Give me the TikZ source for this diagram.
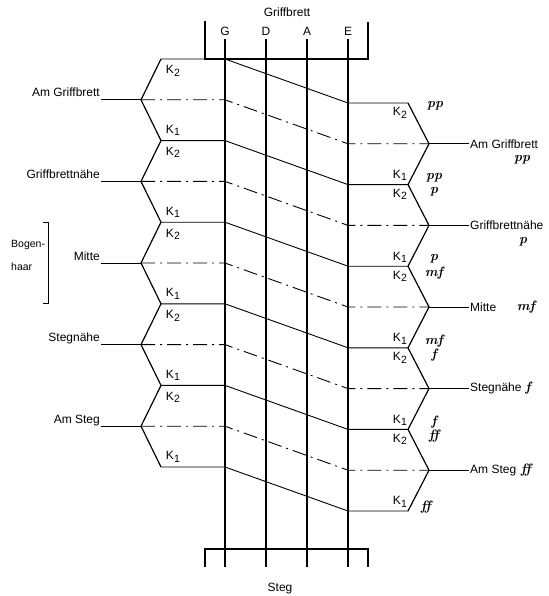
\documentclass[tikz,border=0pt]{standalone}
\usepackage{fontspec}
\setsansfont{Liberation Sans}
\usetikzlibrary{calc}
\newcommand{\Kn}[1]{K\kern0.2pt\raisebox{-2.5pt}{\fontsize{10.5}{11}\selectfont #1}}
\tikzset{
  lbl/.style={font=\sffamily\fontsize{12}{14}\selectfont, inner sep=1pt},
  klbl/.style={font=\sffamily\fontsize{12}{14}\selectfont, inner sep=0pt},
  dynlbl/.style={font=\rmfamily\bfseries\itshape\fontsize{13.5}{15}\selectfont, inner sep=0pt},
  strline/.style={line width=1.3pt},
  zigline/.style={line width=1.2pt, line join=miter},
  levline/.style={line width=0.9pt},
  dashline/.style={levline, dash pattern=on 14pt off 5pt on 2pt off 5pt},
}
\begin{document}
\begin{tikzpicture}[x=1pt, y=-1pt]
  \useasboundingbox[fill=white] (0,0) rectangle (548,596);
  % levels: left side, G string, E string, right side
  \foreach \i in {0,...,10}{
    \pgfmathsetmacro{\yl}{59+40.8*\i}
    \pgfmathsetmacro{\yr}{103+40.8*\i}
    \pgfmathsetmacro{\xl}{isodd(\i) ? 141 : 161}
    \pgfmathsetmacro{\xr}{isodd(\i) ? 429 : 408}
    \coordinate (zl\i) at (\xl,\yl);
    \coordinate (gl\i) at (225,\yl);
    \coordinate (er\i) at (348,\yr);
    \coordinate (zr\i) at (\xr,\yr);
  }
  % strings
  \foreach \s/\x in {G/225, D/266, A/307, E/348}{
    \node[lbl] (n\s) at (\x,31) {\s};
    \coordinate (top\s) at (\x,39);
    \coordinate (bot\s) at (\x,567);
    \draw[strline] (top\s) -- (bot\s);
  }
  \node[lbl] (griff) at (287,12) {Griffbrett};
  \node[lbl] (steg) at (280,589) {Steg};
  % brackets
  \coordinate (tbl) at (205,21);
  \coordinate (tbr) at (368,22);
  \draw[strline] (tbl) |- (gl0) -- (368,59) -- (tbr);
  \coordinate (bbl) at (205,567);
  \coordinate (bbr) at (368,567);
  \draw[strline] (bbl) |- (266,549) -| (bbr);
  % zigzags
  \draw[zigline] (zl0) \foreach \i in {1,...,10}{ -- (zl\i)};
  \draw[zigline] (zr0) \foreach \i in {1,...,10}{ -- (zr\i)};
  \foreach \i in {0,2,...,10}
    \draw[levline] (zl\i) -- (gl\i) -- (er\i) -- (zr\i);
  \foreach \i in {1,3,...,9}
    \draw[dashline] (zl\i) -- (gl\i) -- (er\i) -- (zr\i);
  % contact point labels
  \foreach \i/\txt in {1/Am Griffbrett, 3/Griffbrettnähe, 5/Mitte, 7/Stegnähe, 9/Am Steg}{
    \draw[levline] (zl\i) -- ++(-40,0) coordinate (ll\i);
    \node[lbl, anchor=base east, yshift=3pt] (lt\i) at (ll\i) {\txt};
    \draw[levline] (zr\i) -- ++(40,0) coordinate (rl\i);
    \node[lbl, anchor=west] (rt\i) at (rl\i) {\txt};
  }
  \node[dynlbl] (dr1) at ($(rl1)+(53,16)$) {pp};
  \node[dynlbl] (dr3) at ($(rl3)+(54,16)$) {p};
  \node[dynlbl] (dr5) at ($(rl5)+(57,0)$) {mf};
  \node[dynlbl] (dr7) at ($(rl7)+(59,0)$) {f};
  \node[dynlbl] (dr9) at ($(rl9)+(57,0)$) {ff};
  % dynamics at the right side
  \node[dynlbl] (dv0) at ($(zr0)+(27,3)$) {pp};
  \foreach \i/\a/\b in {2/pp/p, 4/p/mf, 6/mf/f, 8/f/ff}{
    \node[dynlbl] (da\i) at ($(zr\i)+(26,-7)$) {\a};
    \node[dynlbl] (db\i) at ($(zr\i)+(26,7)$) {\b};
  }
  \node[dynlbl] (dv10) at ($(zr10)+(18,-4)$) {ff};
  % K labels
  \foreach \i in {0,2,...,8}{
    \node[klbl] (kla\i) at ($(zl\i)+(12,12)$) {\Kn2};
    \node[klbl] (kra\i) at ($(zr\i)+(-8,10)$) {\Kn2};
  }
  \foreach \i in {2,4,...,10}{
    \node[klbl] (klb\i) at ($(zl\i)+(12,-10)$) {\Kn1};
    \node[klbl] (krb\i) at ($(zr\i)+(-8,-9)$) {\Kn1};
  }
  % bow hair bracket
  \coordinate (bh1) at (43,222.2);
  \coordinate (bh2) at (43,303.8);
  \draw[levline] (bh1) -- ++(5,0) |- (bh2);
  \node[font=\sffamily\fontsize{10.5}{23}\selectfont, align=left, anchor=west, inner sep=0pt] (bogen) at (11,255.5) {Bogen-\\haar};
\end{tikzpicture}
\end{document}
